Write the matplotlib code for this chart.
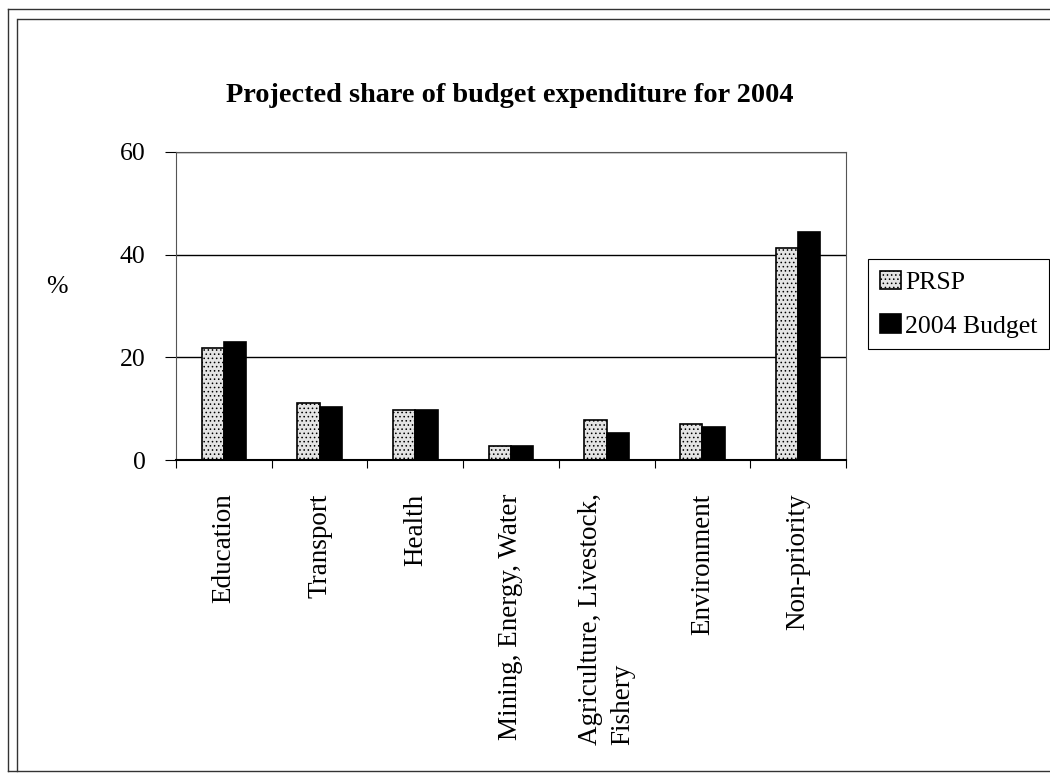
import numpy as np
import matplotlib.pyplot as plt
from matplotlib.lines import Line2D

categories = ["Education", "Transport", "Health", "Mining, Energy, Water",
              "Agriculture, Livestock,\nFishery", "Environment", "Non-priority"]
prsp = [21.8, 11.1, 9.7, 2.7, 7.7, 7.1, 41.3]
budget_2004 = [23.0, 10.3, 9.7, 2.7, 5.3, 6.5, 44.4]
series_names = ["PRSP", "2004 Budget"]
yticks = [0, 20, 40, 60]

plt.rcParams['font.family'] = ['Liberation Serif', 'DejaVu Serif']
plt.rcParams['hatch.color'] = '#a8a8a8'
plt.rcParams['hatch.linewidth'] = 0.6

W, H = 1050, 773
fig = plt.figure(figsize=(W / 100, H / 100), dpi=100, facecolor='white')
ax = fig.add_axes([176 / W, 1 - 460 / H, 670 / W, 308 / H])

x = np.arange(len(categories))
bw = 0.233
b1 = ax.bar(x - bw / 2, prsp, bw, color='#e4e4e4', edgecolor='black', linewidth=1.2,
            hatch='....', label=series_names[0])
b2 = ax.bar(x + bw / 2, budget_2004, bw, color='black', edgecolor='black', linewidth=1.2,
            label=series_names[1])

ax.set_xlim(-0.5, len(categories) - 0.5)
ax.set_ylim(0, 60)
ax.set_yticks(yticks)
ax.set_yticklabels([str(v) for v in yticks], fontsize=18.5)
ax.tick_params(axis='y', direction='out', length=8, width=0.8, pad=14)

# labels under each group, tick marks between the groups
ax.set_xticks(x)
ax.set_xticklabels(categories, rotation=90, fontsize=19.5, va='top', ha='center',
                   multialignment='left', linespacing=1.35)
ax.tick_params(axis='x', which='major', length=0, pad=24)
ax.set_xticks(np.arange(-0.5, len(categories)), minor=True)
ax.tick_params(axis='x', which='minor', direction='out', length=6, width=0.8)

ax.grid(axis='y', color='black', linewidth=1.0)
ax.set_axisbelow(True)
for s in ['left', 'right', 'top']:
    ax.spines[s].set_color('#555555')
    ax.spines[s].set_linewidth(0.8)
ax.spines['bottom'].set_linewidth(1.5)

fig.text(510 / W, 1 - 96 / H, "Projected share of budget expenditure for 2004",
         ha='center', va='center', fontsize=20.3, fontweight='bold')
fig.text(57 / W, 1 - 287 / H, "%", ha='center', va='center', fontsize=18.5)

leg = fig.legend(handles=[b1, b2], labels=series_names, loc='upper left',
                 bbox_to_anchor=(868 / W, 1 - 259 / H), fontsize=18.5,
                 fancybox=False, edgecolor='black', framealpha=1,
                 handlelength=0.85, handleheight=0.75, handletextpad=0.15,
                 labelspacing=0.8, borderpad=0.45, borderaxespad=0)
leg.get_frame().set_linewidth(0.8)

# double frame around the whole chart (open on the right)
def fig_line(xs, ys):
    fig.add_artist(Line2D([v / W for v in xs], [1 - v / H for v in ys],
                          transform=fig.transFigure, color='#333333', linewidth=1.0))

fig_line([8, 1050], [9, 9])
fig_line([18, 1050], [19, 19])
fig_line([8, 8], [9, 771])
fig_line([17, 17], [19, 771])
fig_line([8, 1050], [771, 771])

fig.savefig('out.png', dpi=100)
